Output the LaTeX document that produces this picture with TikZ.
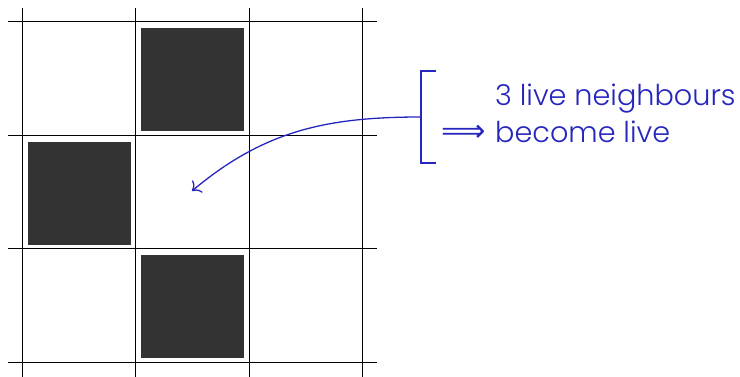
\documentclass[tikz,border=0pt]{standalone}
\usepackage{fontspec}
\setmainfont{Poppins}[UprightFont=* Light]
\newfontfamily\arrowfont{DejaVu Sans}
\usetikzlibrary{positioning,arrows.meta}
\definecolor{notecol}{RGB}{38,38,190}

\begin{document}
\begin{tikzpicture}[x=1pt, y=-1pt, >={To[scale=1.7]},
    cell/.style={rectangle, fill=black!80, minimum size=103pt, inner sep=0pt},
    note/.style={text=notecol, font=\fontsize{28.7}{37}\selectfont, inner sep=0pt}]
    \useasboundingbox (0,0) rectangle (740,377);
    \foreach \p in {22,135.5,249,362.5} {
        \draw[line width=1pt] (\p,8) -- (\p,377);
        \draw[line width=1pt] (8,\p) -- (377,\p);
    }
    \node[cell] (top) at (192.5,79.5) {};
    \node[cell] (left) at (79.5,193.5) {};
    \node[cell] (bottom) at (192.5,306.5) {};
    \coordinate (target) at (192,191);

    \draw[notecol, line width=1.5pt] (436,71) -- (421,71) -- (421,163) -- (436,163);
    \coordinate (brace) at (421,117);
    \node[note, anchor=base west] (line1) at (495,106) {3 live neighbours};
    \node[note, anchor=base west] (line2) at (495,143) {become live};
    \node[note, anchor=east, font=\arrowfont\fontsize{31}{37}\selectfont] (implies) at (486,133) {⟹};
    \draw[->, notecol, line width=1.3pt] (brace) to[out=180, in=40] (target);
\end{tikzpicture}
\end{document}
